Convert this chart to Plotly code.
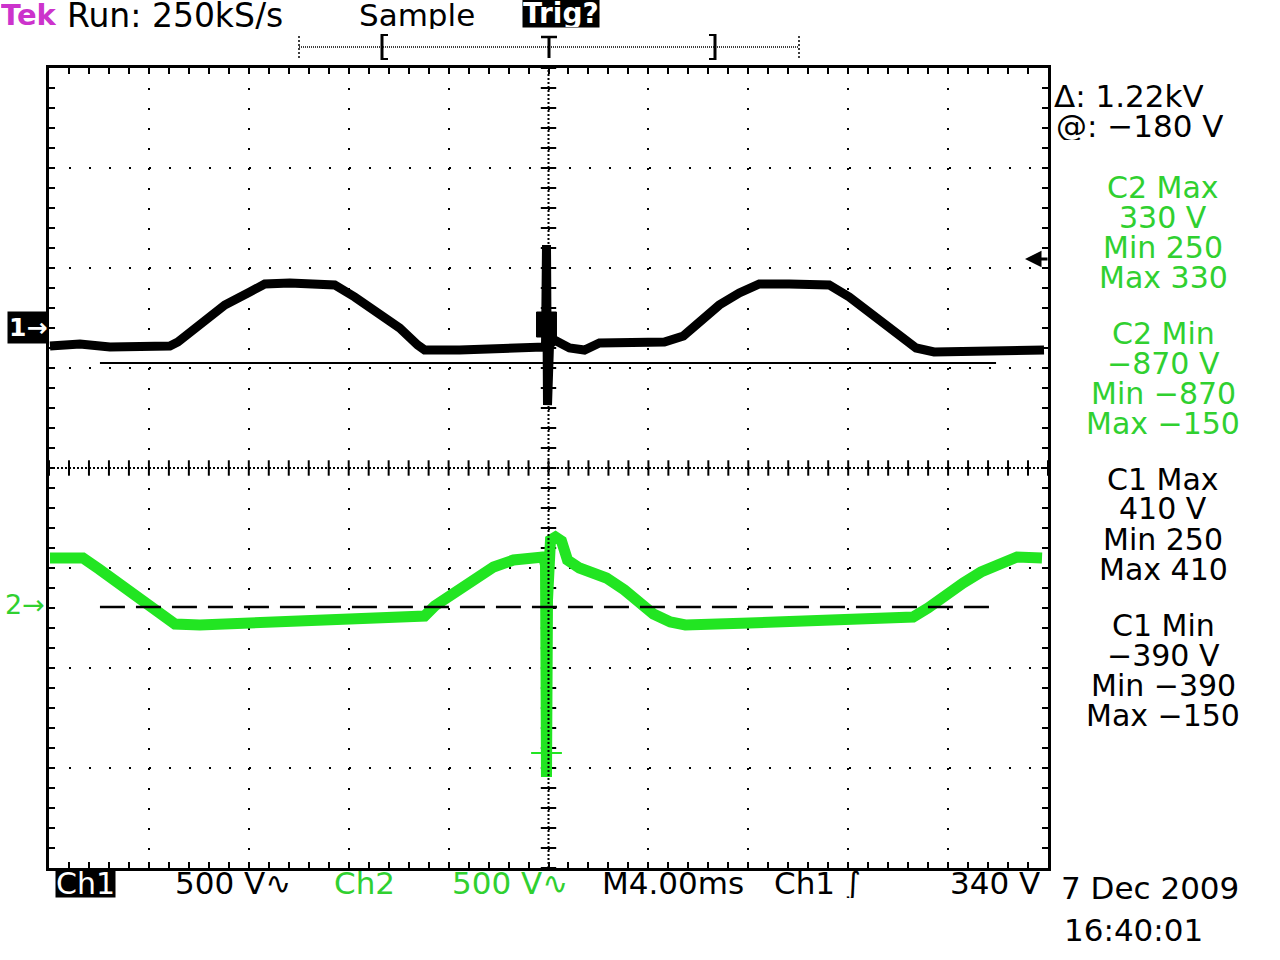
import numpy as np
import plotly.graph_objects as go

W, H = 1280, 960

# Channel 1 (black), time in ms relative to trigger, volts
ch1_time_ms = [-19.96, -18.76, -17.56, -16.36, -15.16, -14.84, -13.96, -12.96, -11.96, -11.36,
               -10.36, -9.36, -8.56, -7.76, -6.76, -5.96, -5.24, -4.96, -3.56, -1.96,
               -0.36, -0.12, -0.08, -0.04, 0.04, 0.24, 0.84, 1.44, 2.04, 3.24,
               4.64, 5.40, 6.04, 6.84, 7.64, 8.44, 9.64, 11.24, 12.04, 13.04,
               14.04, 14.72, 15.44, 16.84, 18.44, 19.84]
ch1_volts = [-95, -85, -100, -95, -95, -75, 10, 110, 175, 215,
             220, 210, 210, 150, 70, -5, -90, -115, -115, -105,
             -100, -100, 410, -390, -90, -65, -105, -115, -80, -80,
             -75, -45, 25, 110, 170, 215, 215, 210, 150, 60,
             -30, -105, -125, -120, -110, -115]

# small burst around the trigger on channel 1
ch1_burst_time_ms = [-0.48, 0.32, 0.32, -0.48, -0.48]
ch1_burst_volts = [75, 75, -50, -50, 75]

# Channel 2 (green)
ch2_time_ms = [-19.96, -18.64, -18.00, -17.20, -16.44, -16.04, -15.48, -14.96, -13.96, -12.16,
               -9.96, -8.36, -6.76, -4.96, -4.56, -3.76, -3.00, -2.20, -1.40, -0.76,
               -0.20, -0.12, -0.08, -0.04, 0.08, 0.28, 0.52, 0.76, 1.24, 2.32,
               3.04, 3.76, 4.20, 4.88, 5.48, 8.04, 12.04, 14.60, 15.20, 15.88,
               16.60, 17.32, 18.04, 18.76, 19.76]
ch2_volts = [230, 230, 175, 100, 25, -10, -60, -100, -105, -95,
             -85, -80, -70, -60, -10, 60, 130, 185, 220, 235,
             235, 195, -865, 20, 320, 335, 315, 220, 180, 130,
             70, 5, -50, -90, -105, -95, -80, -65, -20, 45,
             105, 160, 205, 235, 230]

ch2_trig_mark_time_ms = [-0.08]
ch2_trig_mark_volts = [-745]

cursor_volts = [-180, -1400]          # cursor positions on channel 1 scale
cursor_time_ms = [-17.96, 17.92]
trigger_level_volts = 340

volts_per_div = 500
ms_per_div = 4
ch1_ground_div = 1.41
ch2_ground_div = -1.36

measure_blocks = [
    (["C2 Max", "330 V", "Min 250", "Max 330"], "green"),
    (["C2 Min", "\u2212870 V", "Min \u2212870", "Max \u2212150"], "green"),
    (["C1 Max", "410 V", "Min 250", "Max 410"], "black"),
    (["C1 Min", "\u2212390 V", "Min \u2212390", "Max \u2212150"], "black"),
]
cursor_labels = ["\u0394: 1.22kV", "@: \u2212180 V"]

# ---------------- styling ----------------
FONT = "DejaVu Sans"
GREEN_TRACE = "#22e522"
GREEN_TEXT = "#30d030"
MAGENTA = "#cc33cc"

def px(x):
    return x / W

def py(y):
    return 1 - y / H

def ch1_div(v):
    return np.asarray(v, dtype=float) / volts_per_div + ch1_ground_div

def ch2_div(v):
    return np.asarray(v, dtype=float) / volts_per_div + ch2_ground_div

fig = go.Figure()

# graticule centre line ticks
tick_y = np.round(np.arange(-4, 4.0001, 0.2), 3)
tick_x = np.round(np.arange(-20, 20.0001, 0.8), 3)
fig.add_trace(go.Scatter(x=np.zeros_like(tick_y), y=tick_y, mode="markers",
                         marker=dict(symbol="line-ew", size=11, line=dict(color="black", width=2)),
                         hoverinfo="skip", showlegend=False))
fig.add_trace(go.Scatter(x=tick_x, y=np.zeros_like(tick_x), mode="markers",
                         marker=dict(symbol="line-ns", size=11, line=dict(color="black", width=2)),
                         hoverinfo="skip", showlegend=False))

# channel 2
fig.add_trace(go.Scatter(x=ch2_time_ms, y=ch2_div(ch2_volts), mode="lines",
                         line=dict(color=GREEN_TRACE, width=11), showlegend=False))
fig.add_trace(go.Scatter(x=ch2_trig_mark_time_ms, y=ch2_div(ch2_trig_mark_volts), mode="markers",
                         marker=dict(symbol="line-ew", size=22, line=dict(color=GREEN_TRACE, width=2)),
                         showlegend=False))
# channel 1
fig.add_trace(go.Scatter(x=ch1_time_ms, y=ch1_div(ch1_volts), mode="lines",
                         line=dict(color="black", width=9), showlegend=False))
fig.add_trace(go.Scatter(x=ch1_burst_time_ms, y=ch1_div(ch1_burst_volts), mode="lines",
                         fill="toself", fillcolor="black", line=dict(color="black", width=1),
                         showlegend=False))

# cursors
fig.add_trace(go.Scatter(x=cursor_time_ms, y=ch1_div([cursor_volts[0]] * 2), mode="lines",
                         line=dict(color="black", width=2), showlegend=False))
fig.add_trace(go.Scatter(x=cursor_time_ms, y=ch1_div([cursor_volts[1]] * 2), mode="lines",
                         line=dict(color="black", width=2.5, dash="25px,11px"), showlegend=False))

shapes = []
# dense centre lines
shapes.append(dict(type="line", xref="x", yref="y", x0=0, x1=0, y0=-4, y1=4,
                   line=dict(color="black", width=2, dash="2px,2px")))
shapes.append(dict(type="line", xref="x", yref="y", x0=-20, x1=20, y0=0, y1=0,
                   line=dict(color="black", width=2, dash="2px,2px")))

def pline(x0, y0, x1, y1, w=2, dash=None):
    d = dict(type="line", xref="paper", yref="paper", x0=px(x0), x1=px(x1), y0=py(y0), y1=py(y1),
             line=dict(color="black", width=w))
    if dash:
        d["line"]["dash"] = dash
    return d

# top record bar
shapes.append(pline(299, 47, 799, 47, 1.5, "1px,1px"))
shapes.append(pline(299, 36, 299, 60, 1.5, "2px,2px"))
shapes.append(pline(799, 36, 799, 60, 1.5, "2px,2px"))
shapes.append(pline(382, 34, 382, 60, 3))
shapes.append(pline(381, 35, 388, 35, 2))
shapes.append(pline(381, 59, 388, 59, 2))
shapes.append(pline(715, 34, 715, 60, 3))
shapes.append(pline(709, 35, 716, 35, 2))
shapes.append(pline(709, 59, 716, 59, 2))
shapes.append(pline(541, 37, 557, 37, 2.5))
shapes.append(pline(549, 37, 549, 58, 3))

annotations = []

def text(x, y, s, size=30, color="black", anchor="left", bg=None, bold=False, pad=0, h=None):
    if bold:
        s = "<b>" + s + "</b>"
    a = dict(x=px(x), y=py(y), xref="paper", yref="paper", text=s, showarrow=False,
             xanchor=anchor, yanchor="middle", font=dict(family=FONT, size=size, color=color),
             borderpad=pad)
    if h:
        a["height"] = h
    if bg:
        a["bgcolor"] = bg
    annotations.append(a)

# top line
text(0, 15, "Tek", 29, MAGENTA, bold=True, h=28)
text(66, 15, "Run: 250kS/s", 33, h=28)
text(358, 15, "Sample", 31, h=28)
text(522, 13, "Trig?", 28, "white", bg="black", bold=True, h=27)

# bottom line
text(55, 883, "Ch1", 30, "white", bg="black", h=28)
text(174, 883, "500 V\u223f", 31, h=30)
text(333, 883, "Ch2", 31, GREEN_TEXT, h=30)
text(451, 883, "500 V\u223f", 31, GREEN_TEXT, h=30)
text(601, 883, "M4.00ms", 31, h=30)
text(773, 883, "Ch1 \u222b", 31, h=30)
text(1041, 883, "340 V", 31, anchor="right", h=30)
text(1060, 888, "7 Dec 2009", 31, h=30)
text(1063, 930, "16:40:01", 31, h=30)

# right measurements
text(1053, 95, cursor_labels[0], 31, h=29)
text(1055, 125, cursor_labels[1], 31, h=29)
block_tops = [187, 333, 479, 625]
for (lines, col), y0 in zip(measure_blocks, block_tops):
    c = GREEN_TEXT if col == "green" else "black"
    for i, s in enumerate(lines):
        text(1163, y0 + 30 * i, s, 30, c, anchor="center", h=29)

# channel ground markers
annotations.append(dict(x=0, xref="x domain", y=ch1_ground_div, yref="y", text="<b>1\u2192</b>",
                        showarrow=False, xanchor="right", yanchor="middle", bgcolor="black",
                        font=dict(family=FONT, size=25, color="white"), borderpad=1))
annotations.append(dict(x=-0.003, xref="x domain", y=ch2_ground_div, yref="y", text="2\u2192",
                        showarrow=False, xanchor="right", yanchor="middle",
                        font=dict(family=FONT, size=27, color=GREEN_TEXT), borderpad=0))
# trigger level arrow on ch1
annotations.append(dict(x=19.08, y=float(ch1_div(trigger_level_volts)), xref="x", yref="y", text="",
                        showarrow=True, ax=24, ay=0, arrowhead=2, arrowsize=1.1, arrowwidth=3,
                        arrowcolor="black"))

axis_common = dict(showline=True, linecolor="black", linewidth=3, mirror="allticks",
                   ticks="inside", ticklen=6, tickwidth=2, tickcolor="black",
                   showticklabels=False, zeroline=False, showgrid=True, gridcolor="black",
                   gridwidth=2, griddash="2px,18px")

fig.update_layout(
    width=W, height=H,
    margin=dict(l=0, r=0, t=0, b=0),
    paper_bgcolor="white", plot_bgcolor="white",
    xaxis=dict(range=[-20, 20], domain=[px(49), px(1048)], dtick=ms_per_div,
               minor=dict(dtick=0.8, ticks="inside", ticklen=6, tickwidth=2, tickcolor="black",
                          showgrid=False),
               **axis_common),
    yaxis=dict(range=[-4, 4], domain=[py(868), py(68)], dtick=1,
               minor=dict(dtick=0.2, ticks="inside", ticklen=6, tickwidth=2, tickcolor="black",
                          showgrid=False),
               **axis_common),
    shapes=shapes,
    annotations=annotations,
    showlegend=False,
)

fig.write_html("out.html")
